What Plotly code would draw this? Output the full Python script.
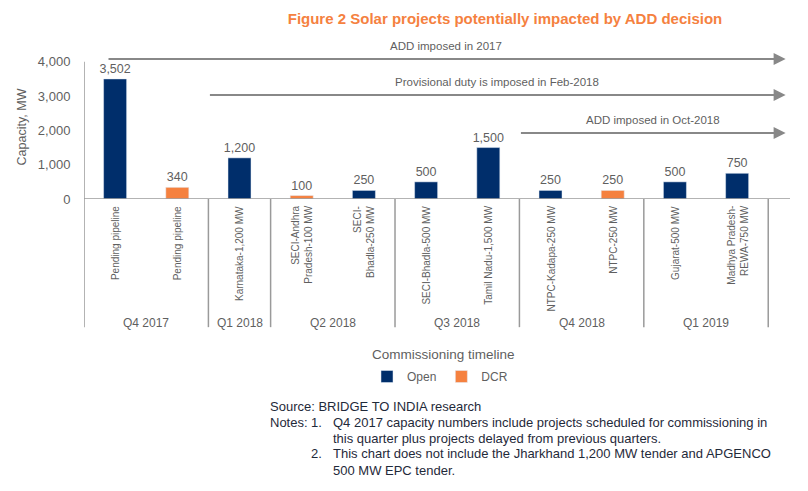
import plotly.graph_objects as go

projects = ["Pending pipeline", "Pending pipeline", "Karnataka-1,200 MW",
            "SECI-Andhra<br>Pradesh-100 MW", "SECI-<br>Bhadla-250 MW",
            "SECI-Bhadla-500 MW", "Tamil Nadu-1,500 MW", "NTPC-Kadapa-250 MW",
            "NTPC-250 MW", "Gujarat-500 MW", "Madhya Pradesh-<br>REWA-750 MW"]
types = ["Open", "DCR", "Open", "DCR", "Open", "Open", "Open", "Open", "DCR", "Open", "Open"]
capacity = [3502, 340, 1200, 100, 250, 500, 1500, 250, 250, 500, 750]
quarters = ["Q4 2017", "Q1 2018", "Q2 2018", "Q3 2018", "Q4 2018", "Q1 2019"]
quarter_sizes = [2, 1, 2, 2, 2, 2]
arrow_texts = ["ADD imposed in 2017", "Provisional duty is imposed in Feb-2018", "ADD imposed in Oct-2018"]
arrow_start = [-0.13, 1.5, 6.5]
arrow_level = [4080, 3030, 1925]

FONT = "Liberation Sans, Arial, sans-serif"
GREY = "#5f5f5f"
colors = {"Open": "#002E6B", "DCR": "#F5813F"}

fig = go.Figure()
for t in ["Open", "DCR"]:
    xs = [i for i, k in enumerate(types) if k == t]
    ys = [capacity[i] for i in xs]
    fig.add_trace(go.Bar(x=xs, y=ys, name=t, marker_color=colors[t], width=0.37,
                         texttemplate="%{y:,}", textposition="outside", constraintext="none",
                         textfont=dict(family=FONT, size=12.5, color=GREY),
                         cliponaxis=False))

ann = []
# category labels
for i, p in enumerate(projects):
    ann.append(dict(x=i, y=0, yref="y", xref="x", yshift=-5, text=p, textangle=-90,
                    showarrow=False, xanchor="center", yanchor="top", align="right",
                    font=dict(family=FONT, size=10, color=GREY)))
# quarter labels and separators
shapes = []
pos = -0.5
for q, n in zip(quarters, quarter_sizes):
    ann.append(dict(x=pos + n / 2, y=-(323 - 199) / 144, xref="x", yref="paper", text=q,
                    showarrow=False, yanchor="middle",
                    font=dict(family=FONT, size=12, color=GREY)))
    shapes.append(dict(type="line", xref="x", yref="paper", x0=pos, x1=pos, y0=0, y1=-0.89,
                       line=dict(color="#9a9a9a", width=1.5)))
    pos += n
shapes.append(dict(type="line", xref="x", yref="paper", x0=pos, x1=pos, y0=0, y1=-0.89,
                   line=dict(color="#9a9a9a", width=1.5)))
shapes.append(dict(type="line", xref="x", yref="y", x0=-0.5, x1=-0.5, y0=0, y1=4000,
                   line=dict(color="#9a9a9a", width=1.5)))
shapes.append(dict(type="line", xref="paper", yref="y", x0=0, x1=1, y0=0, y1=0,
                   line=dict(color="#9a9a9a", width=1.5)))

# arrows
for txt, s, lv in zip(arrow_texts, arrow_start, arrow_level):
    ann.append(dict(x=10.78, y=lv, ax=s, ay=lv, xref="x", yref="y", axref="x", ayref="y",
                    text="", showarrow=True, arrowhead=2, arrowsize=1.2, arrowwidth=2,
                    arrowcolor="#888888"))
    ann.append(dict(x=(s + 10.78) / 2, y=lv, yshift=13, xref="x", yref="y", text=txt,
                    showarrow=False, font=dict(family=FONT, size=11.5, color=GREY)))

ann.append(dict(x=(443 - 84) / 706, y=-(354 - 199) / 144, xref="paper", yref="paper",
                text="Commissioning timeline", showarrow=False, yanchor="middle",
                font=dict(family=FONT, size=13.5, color=GREY)))

NF = dict(family=FONT, size=13, color="#1f2a3a")
def note(xpx, ypx, txt):
    ann.append(dict(x=(xpx - 84) / 706, y=-(ypx - 199) / 144, xref="paper", yref="paper",
                    text=txt, showarrow=False, xanchor="left", yanchor="middle", font=NF))
note(268, 406, "Source: BRIDGE TO INDIA research")
note(268, 422, "Notes:")
note(309, 422, "1.")
note(331, 422, "Q4 2017 capacity numbers include projects scheduled for commissioning in")
note(331, 438, "this quarter plus projects delayed from previous quarters.")
note(309, 454, "2.")
note(331, 454, "This chart does not include the Jharkhand 1,200 MW tender and APGENCO")
note(331, 470, "500 MW EPC tender.")

fig.update_layout(
    width=808, height=491,
    margin=dict(l=84, r=18, t=55, b=292),
    paper_bgcolor="white", plot_bgcolor="white",
    title=dict(text="<b>Figure 2 Solar projects potentially impacted by ADD decision</b>",
               x=505 / 808, xanchor="center", y=1 - 19 / 491, yanchor="middle",
               font=dict(family=FONT, size=15, color="#F5813F")),
    xaxis=dict(range=[-0.5, 10.85], showticklabels=False, showgrid=False, zeroline=False,
               showline=False, fixedrange=True),
    yaxis=dict(range=[0, 4200], tickvals=[0, 1000, 2000, 3000, 4000], tickformat=",",
               showgrid=False, zeroline=False, showline=False, ticks="outside", ticklen=10,
               tickcolor="rgba(0,0,0,0)",
               tickfont=dict(family=FONT, size=13, color=GREY),
               title=dict(text="Capacity, MW", font=dict(family=FONT, size=12.5, color=GREY), standoff=8)),
    legend=dict(orientation="h", x=(367 - 84) / 706, y=-(362 - 199) / 144, xanchor="left", yanchor="top",
                font=dict(family=FONT, size=12, color=GREY), bgcolor="rgba(0,0,0,0)"),
    annotations=ann, shapes=shapes, showlegend=True, bargap=0.5,
)
fig.write_html("out.html")
